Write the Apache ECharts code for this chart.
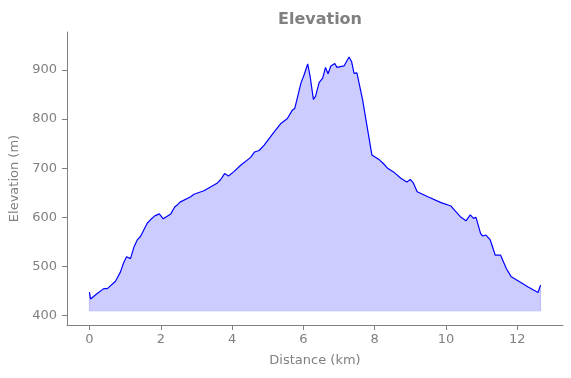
<!DOCTYPE html>
<html>
<head>
<meta charset="utf-8">
<title>Elevation</title>
<script src="https://cdn.jsdelivr.net/npm/echarts@6/dist/echarts.min.js"></script>
<style>
	html,body{margin:0;padding:0;background:#fff;}
	#chart{width:571px;height:378px;}
</style>
</head>
<body>
<div id="chart"></div>
<script>
	// distance along the track (km) and elevation (m)
	var distKm = [0.00,0.03,0.20,0.40,0.50,0.73,0.87,0.95,1.04,1.15,1.25,1.34,1.43,1.48,1.62,1.71,1.83,1.88,1.96,2.07,
		2.28,2.39,2.46,2.54,2.84,2.93,3.21,3.59,3.68,3.79,3.90,4.05,4.24,4.52,4.63,4.76,4.90,5.18,5.37,5.55,
		5.69,5.76,5.93,6.02,6.12,6.19,6.28,6.34,6.44,6.54,6.62,6.69,6.77,6.88,6.94,7.14,7.28,7.35,7.42,7.50,
		7.61,7.66,7.92,8.13,8.22,8.36,8.55,8.74,8.90,9.00,9.09,9.19,9.49,9.86,10.14,10.23,10.42,10.56,10.68,10.77,
		10.84,10.97,11.03,11.12,11.24,11.38,11.53,11.69,11.83,12.11,12.29,12.58,12.62,12.65];
	var elevM = [448,434,444,455,455,470,489,506,520,516,540,554,561,564,588,595,603,599,607,597,
		607,621,625,631,642,647,654,670,677,689,684,693,706,722,733,736,747,774,791,801,
		818,822,873,890,912,886,840,846,874,883,905,892,908,913,905,908,926,917,893,894,
		856,839,727,717,711,700,691,679,672,677,669,652,642,630,623,615,600,593,605,598,
		600,567,562,564,554,523,523,496,479,467,459,447,446,462];
	var baseElev = 410;
	var xTicks = [0,2,4,6,8,10,12];
	var yTicks = [400,500,600,700,800,900];

	var gray = '#808080';
	var profile = [];
	for(var i = 0 ; i < distKm.length ; i++){
		profile.push([distKm[i], elevM[i]]);
	}
	var last = distKm.length - 1;
	var edge = [[distKm[0],elevM[0]],[distKm[0],baseElev],[distKm[last],baseElev],[distKm[last],elevM[last]]];

	var chart = echarts.init(document.getElementById('chart'));
	var option = {
		animation:false,
		title:{
			text:'Elevation',
			left:315,
			textAlign:'center',
			top:7,
			textStyle:{color:gray,fontSize:16,fontWeight:'bold',fontFamily:'DejaVu Sans'}
		},
		grid:{left:67,right:8,top:32,bottom:53},
		xAxis:{
			type:'value',
			min:-0.63,
			max:13.28,
			name:'Distance (km)',
			nameLocation:'middle',
			nameGap:29,
			nameTextStyle:{color:gray,fontSize:13,fontFamily:'DejaVu Sans'},
			axisLine:{show:true,onZero:false,lineStyle:{color:gray,width:1}},
			axisTick:{show:true,length:5,customValues:xTicks,lineStyle:{color:gray}},
			axisLabel:{color:gray,fontSize:13,margin:8,fontFamily:'DejaVu Sans',customValues:xTicks},
			splitLine:{show:false}
		},
		yAxis:{
			type:'value',
			min:381,
			max:977,
			name:'Elevation (m)',
			nameLocation:'middle',
			nameGap:44,
			nameTextStyle:{color:gray,fontSize:13,fontFamily:'DejaVu Sans'},
			axisLine:{show:true,onZero:false,lineStyle:{color:gray,width:1}},
			axisTick:{show:true,length:5,customValues:yTicks,lineStyle:{color:gray}},
			axisLabel:{color:gray,fontSize:13,margin:10,fontFamily:'DejaVu Sans',customValues:yTicks},
			splitLine:{show:false}
		},
		series:[{
			name:'edge',
			type:'line',
			data:edge,
			symbol:'none',
			silent:true,
			z:1,
			lineStyle:{color:'#a8a8ff',width:1}
		},{
			name:'Elevation',
			type:'line',
			data:profile,
			symbol:'none',
			z:2,
			lineStyle:{color:'#0000ff',width:1.2},
			areaStyle:{color:'#ccccff',opacity:1,origin:baseElev}
		}]
	};
	chart.setOption(option);
</script>
</body>
</html>
